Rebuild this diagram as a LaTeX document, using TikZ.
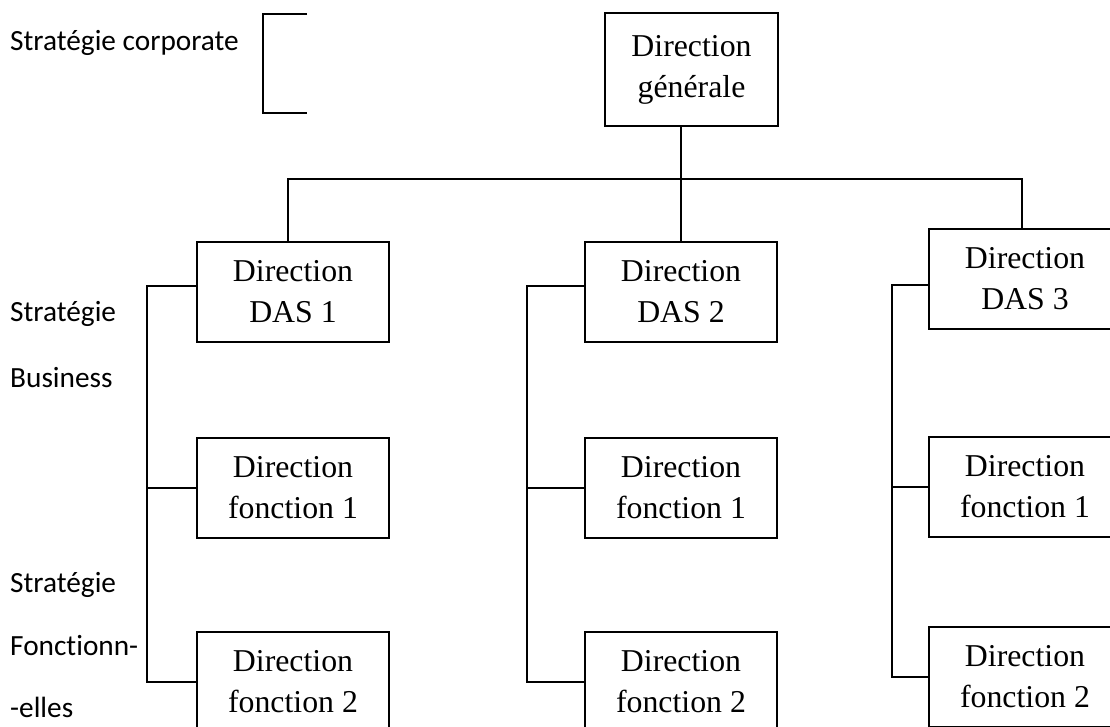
\documentclass[tikz,border=0pt]{standalone}
\usepackage{fontspec}
\setmainfont{Liberation Serif}
\newfontfamily\lblfont{Carlito}[Ligatures=NoCommon]
\usetikzlibrary{positioning}

\tikzset{
  dir/.style={draw, line width=2pt, minimum width=192pt, minimum height=100pt,
    inner sep=0pt, align=center, font=\fontsize{31.8}{41}\selectfont},
  lbl/.style={anchor=base west, inner sep=0pt, font=\lblfont\fontsize{29.3}{35}\selectfont},
  link/.style={line width=2pt},
}

\begin{document}
\begin{tikzpicture}[x=1pt, y=-1pt]
        \useasboundingbox (0,0) rectangle (1110,726);
        \clip (0,0) rectangle (1110,726);
        
        
        \node[dir, minimum width=173pt, minimum height=113pt] (dg) at (691.5,69.5) {Direction\\générale};
        
        \node[dir]                      (das1) at (293,292) {Direction\\DAS 1};
        \node[dir, below=94pt of das1]  (f11) {Direction\\fonction 1};
        \node[dir, below=92pt of f11]   (f21) {Direction\\fonction 2};
        
        \node[dir]                      (das2) at (681,292) {Direction\\DAS 2};
        \node[dir, below=94pt of das2]  (f12) {Direction\\fonction 1};
        \node[dir, below=92pt of f12]   (f22) {Direction\\fonction 2};
        
        \node[dir]                      (das3) at (1025,278.5) {Direction\\DAS 3};
        \node[dir, below=106pt of das3] (f13) {Direction\\fonction 1};
        \node[dir, below=88pt of f13]   (f23) {Direction\\fonction 2};
        
        \coordinate (bar) at (0,179); %
        \coordinate (sp1) at (147,0); %
        \coordinate (sp2) at (527,0); %
        \coordinate (sp3) at (892,0); %
        
        \draw[link] (dg.south -| das2.north) -- (das2.north); %
        \draw[link] ([xshift=-5pt]das1.north) -- ([xshift=-5pt]das1.north |- bar)
                    -- ([xshift=-3pt]das3.north |- bar) -- ([xshift=-3pt]das3.north); %
        
        \draw[link] ([yshift=6pt]das1.west) -- ([yshift=6pt]das1.west -| sp1) |- (f21.west); %
        \draw[link] (f11.west) -- (f11.west -| sp1); %
        \draw[link] ([yshift=6pt]das2.west) -- ([yshift=6pt]das2.west -| sp2) |- (f22.west); %
        \draw[link] (f12.west) -- (f12.west -| sp2); %
        \draw[link] ([yshift=-6pt]das3.west) -- ([yshift=-6pt]das3.west -| sp3) |- (f23.west); %
        \draw[link] (f13.west) -- (f13.west -| sp3); %
        
        \draw[link] (307,14) -- (263,14) -- (263,113) -- (307,113); %
        
        \node[lbl] (corp) at (10,50) {Stratégie corporate};
        \node[lbl] (bus1) at (10,321) {Stratégie};
        \node[lbl] (bus2) at (10,387) {Business};
        \node[lbl] (fon1) at (10,592) {Stratégie};
        \node[lbl] (fon2) at (10,655) {Fonctionn-};
        \node[lbl] (fon3) at (10,717) {-elles};
        
        
    \end{tikzpicture}
\end{document}
